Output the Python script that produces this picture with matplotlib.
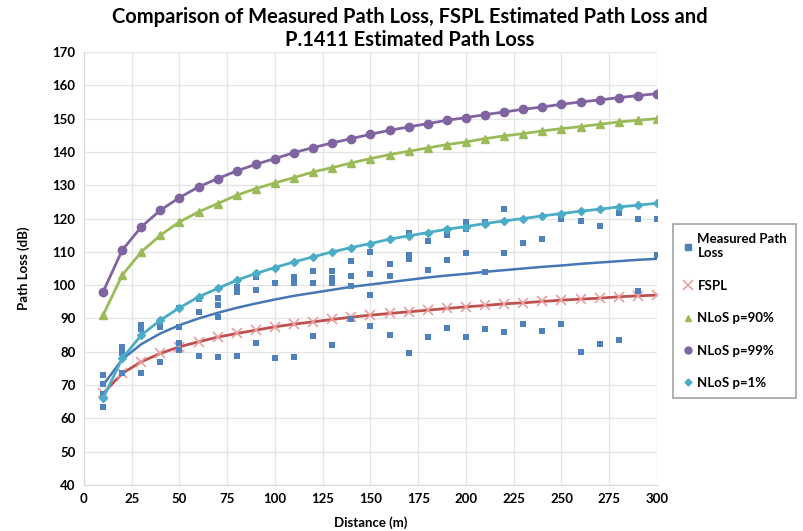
#!/usr/bin/env python3
"""Measured path loss vs FSPL and P.1411 NLoS estimates."""

import matplotlib
matplotlib.use("Agg")
import matplotlib.pyplot as plt
from matplotlib.lines import Line2D

plt.rcParams["font.family"] = ["Lato", "DejaVu Sans"]
plt.rcParams["font.weight"] = "bold"

distance = list(range(10, 301, 10))

# measured samples per distance
measured = {
    10: [73.0, 70.2, 67.3, 63.5],
    20: [81.5, 79.5, 73.5],
    30: [88.0, 86.8, 73.5],
    40: [89.0, 87.3, 76.8],
    50: [93.0, 87.5, 82.5, 80.5],
    60: [95.8, 92.0, 78.8],
    70: [96.0, 94.0, 90.5, 78.5],
    80: [99.5, 97.8, 78.8],
    90: [102.5, 98.5, 82.5],
    100: [100.5, 78.0],
    110: [102.5, 100.5, 78.5],
    120: [104.2, 100.5, 84.7],
    130: [104.3, 102.2, 100.5, 82.0],
    140: [107.3, 102.8, 99.7, 89.8],
    150: [110.0, 103.2, 97.0, 87.7],
    160: [106.5, 102.8, 85.0],
    170: [115.8, 109.0, 108.0, 79.5],
    180: [113.3, 104.5, 84.5],
    190: [116.6, 115.0, 107.7, 87.2],
    200: [119.0, 116.8, 109.6, 84.5],
    210: [119.0, 104.0, 86.8],
    220: [122.8, 109.7, 85.8],
    230: [112.6, 88.2],
    240: [114.0, 86.2],
    250: [120.0, 88.3],
    260: [119.2, 80.0],
    270: [117.8, 82.3],
    280: [121.6, 83.5],
    290: [120.0, 98.3],
    300: [119.8, 109.0],
}

measured_trend = [70.0, 77.7, 82.3, 85.5, 88.0, 90.0, 91.7, 93.2, 94.5, 95.7,
                  96.8, 97.7, 98.6, 99.5, 100.2, 100.9, 101.6, 102.3, 102.9, 103.4,
                  104.0, 104.5, 105.0, 105.5, 105.9, 106.4, 106.8, 107.2, 107.6, 107.9]

fspl = [67.5, 73.5, 77.0, 79.5, 81.5, 83.0, 84.4, 85.5, 86.5, 87.5,
        88.3, 89.0, 89.7, 90.4, 91.0, 91.5, 92.0, 92.5, 93.0, 93.5,
        93.9, 94.4, 94.7, 95.1, 95.5, 95.8, 96.1, 96.5, 96.8, 97.0]

nlos_90 = [91.0, 103.0, 110.0, 115.0, 119.0, 122.0, 124.5, 127.0, 129.0, 130.7,
           132.3, 134.0, 135.3, 136.7, 138.0, 139.2, 140.2, 141.2, 142.2, 143.0,
           144.0, 144.8, 145.5, 146.3, 147.0, 147.6, 148.3, 149.0, 149.5, 150.0]

nlos_99 = [98.0, 110.5, 117.5, 122.5, 126.3, 129.5, 132.0, 134.3, 136.3, 138.0,
           139.8, 141.3, 142.7, 144.0, 145.3, 146.5, 147.5, 148.5, 149.5, 150.3,
           151.2, 152.0, 152.8, 153.5, 154.3, 155.0, 155.6, 156.3, 156.9, 157.5]

nlos_1 = [66.0, 78.0, 85.0, 89.5, 93.2, 96.5, 99.0, 101.5, 103.5, 105.3,
          107.0, 108.5, 110.0, 111.3, 112.5, 113.8, 114.8, 115.8, 116.8, 117.6,
          118.5, 119.3, 120.0, 120.8, 121.5, 122.2, 122.8, 123.5, 124.0, 124.6]

BLUE = "#4F81BD"
RED = "#C0504D"
GREEN = "#9BBB59"
PURPLE = "#8064A2"
CYAN = "#4BACC6"


def main() -> None:
    fig = plt.figure(figsize=(8.04, 5.31), dpi=100)
    ax = fig.add_axes([84 / 804, 1 - 485 / 531, (657 - 84) / 804, (485 - 52) / 531])

    mx = [d for d, vals in measured.items() for _ in vals]
    my = [v for vals in measured.values() for v in vals]

    ax.plot(distance, nlos_99, color=PURPLE, lw=2, marker="o", ms=6, zorder=3)
    ax.plot(distance, nlos_90, color=GREEN, lw=2, marker="^", ms=6, zorder=3)
    ax.scatter(mx, my, marker="s", s=24, color=BLUE, zorder=4, linewidths=0)
    ax.plot(distance, measured_trend, color="#4677B5", lw=1.8, zorder=3)
    ax.plot(distance, fspl, color=RED, lw=2, marker="x", ms=7, mec="#E8A0A0", mew=1.2, zorder=3)
    ax.plot(distance, nlos_1, color=CYAN, lw=2, marker="D", ms=4.5, zorder=5)

    ax.set_xlim(0, 300)
    ax.set_ylim(40, 170)
    ax.set_xticks(range(0, 301, 25))
    ax.set_yticks(range(40, 171, 10))
    ax.tick_params(length=0, labelsize=9.5, pad=6)
    for lab in ax.get_xticklabels() + ax.get_yticklabels():
        lab.set_fontweight("bold")
    ax.grid(True, color="#E4E4E4", lw=0.9)
    ax.set_axisbelow(True)
    for side in ("top", "right"):
        ax.spines[side].set_visible(False)
    ax.spines["left"].set_color("#D9D9D9")
    ax.spines["bottom"].set_color("#D9D9D9")

    ax.set_xlabel("Distance (m)", fontsize=9.5, fontweight="bold", labelpad=8)
    ax.set_ylabel("Path Loss (dB)", fontsize=9.5, fontweight="bold", labelpad=16)

    fig.text(0.51, 1 - 17 / 531, "Comparison of Measured Path Loss, FSPL Estimated Path Loss and",
             ha="center", va="center", fontsize=14.5, fontweight="bold")
    fig.text(0.51, 1 - 40 / 531, "P.1411 Estimated Path Loss",
             ha="center", va="center", fontsize=14.5, fontweight="bold")

    handles = [
        Line2D([], [], ls="none", marker="s", ms=4, color=BLUE),
        Line2D([], [], ls="none", marker="x", ms=7, mec="#E8A0A0", mew=1.2),
        Line2D([], [], ls="none", marker="^", ms=5, color=GREEN),
        Line2D([], [], ls="none", marker="o", ms=5, color=PURPLE),
        Line2D([], [], ls="none", marker="D", ms=3.5, color=CYAN),
    ]
    labels = ["Measured Path\nLoss", "FSPL", "NLoS p=90%", "NLoS p=99%", "NLoS p=1%"]
    leg = fig.legend(handles, labels, loc="upper left", bbox_to_anchor=(673 / 804, 1 - 224 / 531),
                     fontsize=9.5, frameon=True, fancybox=False, handlelength=0.8,
                     handletextpad=0.35, labelspacing=1.55, borderpad=0.7, borderaxespad=0)
    leg.get_frame().set_edgecolor("#8C8C8C")
    leg.get_frame().set_linewidth(1.2)
    for t in leg.get_texts():
        t.set_fontweight("bold")

    fig.savefig("out.png", dpi=100)


if __name__ == "__main__":
    main()
